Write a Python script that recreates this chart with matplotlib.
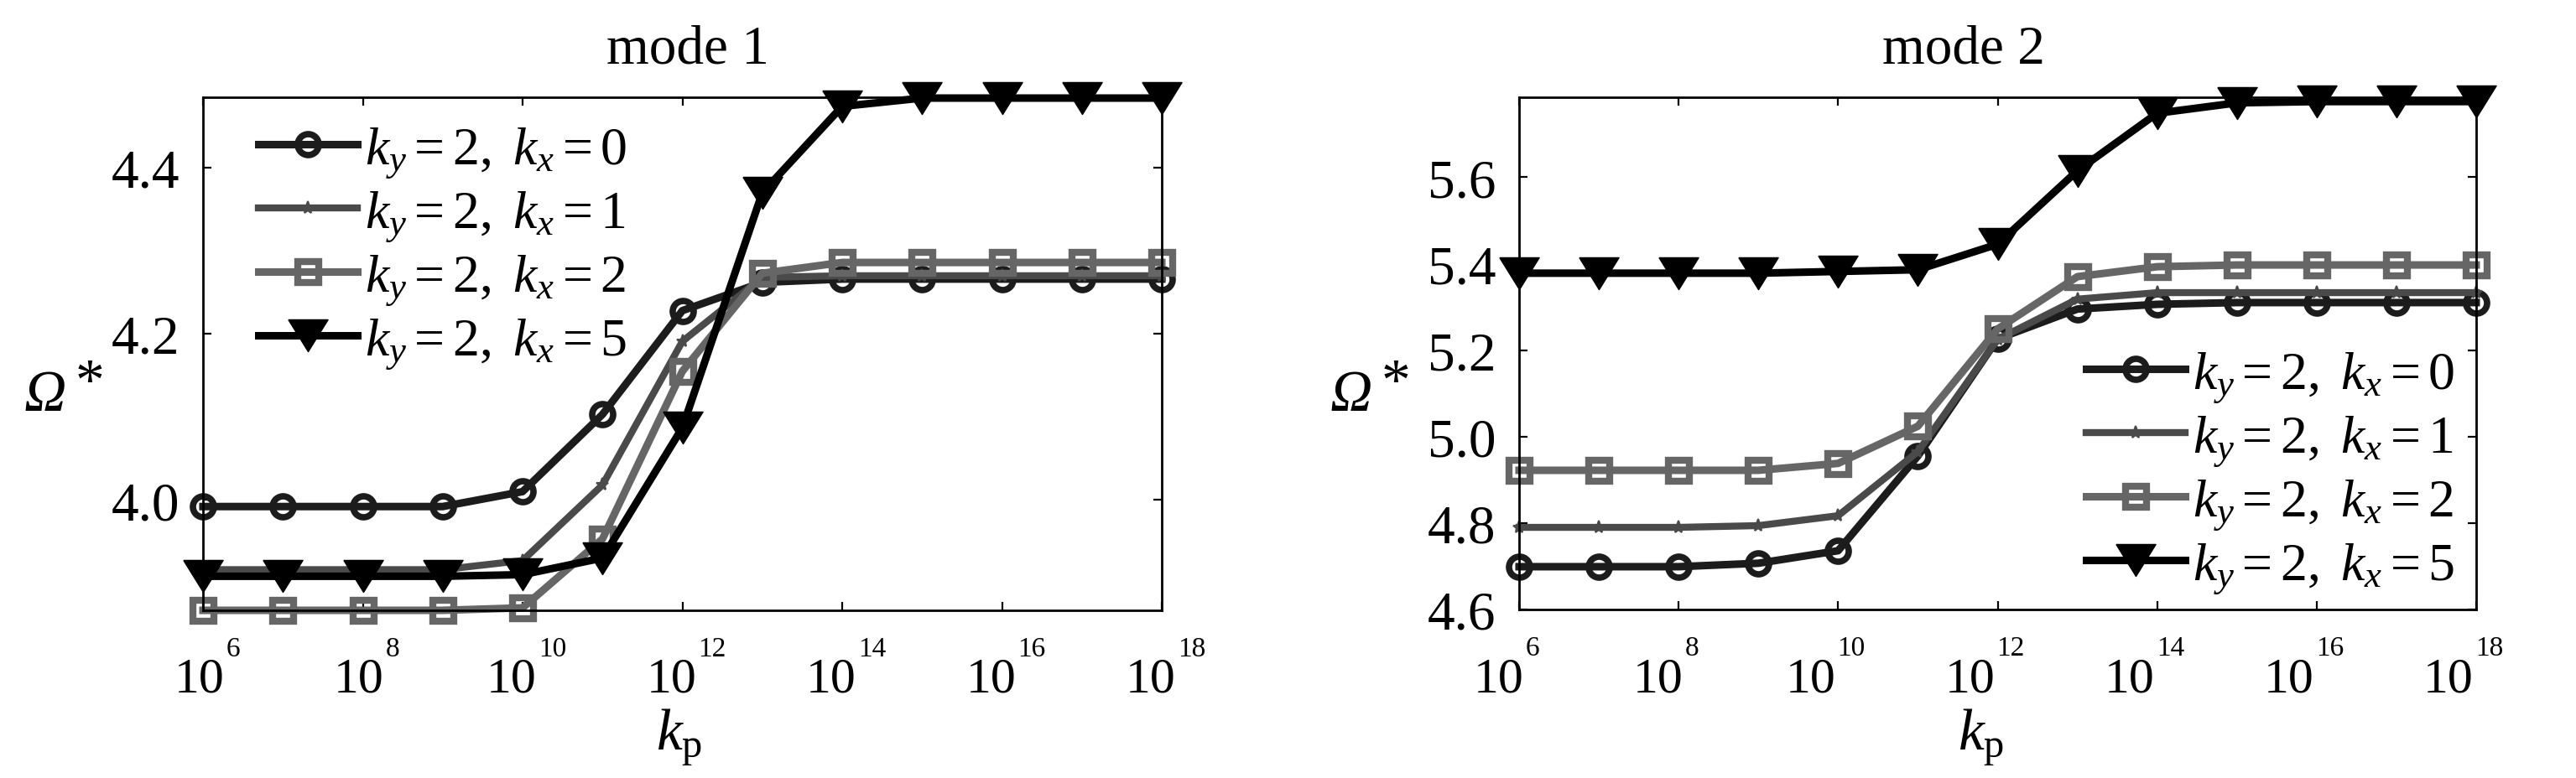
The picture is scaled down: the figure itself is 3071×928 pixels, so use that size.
import numpy as np
import matplotlib
matplotlib.use('Agg')
import matplotlib.pyplot as plt
from matplotlib.ticker import FixedLocator, FuncFormatter, NullLocator

plt.rcParams['font.family'] = ['Liberation Serif', 'DejaVu Serif']
plt.rcParams['mathtext.fontset'] = 'custom'
plt.rcParams['mathtext.rm'] = 'Liberation Serif'
plt.rcParams['mathtext.it'] = 'Liberation Serif:italic'
plt.rcParams['mathtext.bf'] = 'Liberation Serif:bold'

# ---------------- data ----------------
kp = [1e6, 1e7, 1e8, 1e9, 1e10, 1e11, 1e12, 1e13, 1e14, 1e15, 1e16, 1e17, 1e18]
xticks = [1e6, 1e8, 1e10, 1e12, 1e14, 1e16, 1e18]
xtick_exps = ['6', '8', '10', '12', '14', '16', '18']

labels = [r'$k_y=2,\ k_x=0$', r'$k_y=2,\ k_x=1$', r'$k_y=2,\ k_x=2$', r'$k_y=2,\ k_x=5$']

# mode 1
m1_kx0 = [3.992, 3.992, 3.992, 3.992, 4.010, 4.103, 4.228, 4.262, 4.266, 4.266, 4.266, 4.266, 4.266]
m1_kx1 = [3.916, 3.916, 3.916, 3.916, 3.927, 4.018, 4.191, 4.268, 4.270, 4.270, 4.270, 4.270, 4.270]
m1_kx2 = [3.867, 3.867, 3.867, 3.867, 3.870, 3.953, 4.155, 4.273, 4.286, 4.286, 4.286, 4.286, 4.286]
m1_kx5 = [3.908, 3.908, 3.908, 3.908, 3.910, 3.930, 4.087, 4.370, 4.474, 4.484, 4.484, 4.484, 4.484]
m1_yticks = [4.0, 4.2, 4.4]
m1_ylim = [3.867, 4.485]

# mode 2
m2_kx0 = [4.699, 4.699, 4.699, 4.707, 4.736, 4.955, 5.226, 5.295, 5.306, 5.310, 5.310, 5.310, 5.310]
m2_kx1 = [4.790, 4.790, 4.790, 4.794, 4.817, 4.965, 5.225, 5.318, 5.333, 5.333, 5.333, 5.333, 5.333]
m2_kx2 = [4.922, 4.922, 4.922, 4.922, 4.938, 5.024, 5.249, 5.370, 5.393, 5.397, 5.397, 5.397, 5.397]
m2_kx5 = [5.378, 5.378, 5.378, 5.378, 5.382, 5.386, 5.445, 5.615, 5.748, 5.772, 5.775, 5.775, 5.775]
m2_yticks = [4.6, 4.8, 5.0, 5.2, 5.4, 5.6]
m2_ylim = [4.6, 5.785]

# ---------------- style ----------------
W, H = 3071, 929
fig = plt.figure(figsize=(W / 100, H / 100), dpi=100)
P = 0.72  # points per pixel at dpi 100

tri = [(-0.62, 0.5), (0.62, 0.5), (0.0, -0.5), (-0.62, 0.5)]
styles = [
    dict(color='#1c1c1c', marker='o', ms=18, mew=5.5, mfc='none', lw=6.5),
    dict(color='#4a4a4a', marker='*', ms=11, mew=1.5, lw=6.0),
    dict(color='#666666', marker='s', ms=18, mew=6, mfc='none', lw=6.5),
    dict(color='#000000', marker=tri, ms=34, mew=1, lw=6.5),
]

FS = 47
LFS = 46


def px(x0, y0, x1, y1):
    return [x0 / W, 1 - y1 / H, (x1 - x0) / W, (y1 - y0) / H]


def setup(ax, ylim, yticks, xshift):
    ax.set_xscale('log')
    ax.set_xlim(kp[0], kp[-1])
    ax.set_ylim(*ylim)
    ax.xaxis.set_major_locator(FixedLocator(xticks))
    ax.xaxis.set_minor_locator(NullLocator())
    ax.yaxis.set_major_locator(FixedLocator(yticks))
    ax.yaxis.set_major_formatter(FuncFormatter(lambda v, p: '%.1f' % v))
    ax.tick_params(direction='in', top=True, right=True, length=7, width=1.6,
                   labelsize=FS)
    ax.tick_params(axis='x', labelbottom=False)
    ax.tick_params(axis='y', pad=20)
    for s in ax.spines.values():
        s.set_linewidth(2.0)
    tr = ax.get_xaxis_transform()
    for t, e in zip(xticks, xtick_exps):
        base_w, exp_w = 60, 17 * len(e)
        left = xshift - (base_w + 2 + exp_w) / 2
        ax.annotate('10', xy=(t, 0), xycoords=tr, xytext=(left * P, -97 * P),
                    textcoords='offset points', ha='left', va='baseline',
                    fontsize=43, annotation_clip=False)
        ax.annotate(e, xy=(t, 0), xycoords=tr, xytext=((left + base_w + 2) * P, -54 * P),
                    textcoords='offset points', ha='left', va='baseline',
                    fontsize=24, annotation_clip=False)


def draw(ax, series):
    for ys, st, lab in zip(series, styles, labels):
        ax.plot(kp, ys, label=lab, clip_on=False, **st)


def make_legend(ax, x_left, y_first, pitch=76.0):
    """Place legend so that handle lines start at x_left and row pitch/first row match."""
    ls = 0.15
    ax_x, ax_y = x_left, y_first - 35
    leg = None
    for _ in range(3):
        if leg is not None:
            leg.remove()
        leg = ax.legend(loc='upper left', bbox_to_anchor=(ax_x / W, 1 - ax_y / H),
                        bbox_transform=fig.transFigure, frameon=False, fontsize=LFS,
                        handlelength=1.85, handletextpad=0.15, labelspacing=ls,
                        borderpad=0, borderaxespad=0)
        fig.canvas.draw()
        r = fig.canvas.get_renderer()
        hs = leg.legend_handles
        ys = []
        for h in hs:
            bb = h.get_window_extent(r)
            ys.append(H - (bb.y0 + bb.y1) / 2)
        xs = hs[1].get_window_extent(r).x0
        cur_pitch = np.mean(np.diff(ys))
        ls = ls + (pitch - cur_pitch) / (LFS / P)
        ax_y += y_first - ys[0]
        ax_x += x_left - xs
    if leg is not None:
        leg.remove()
    leg = ax.legend(loc='upper left', bbox_to_anchor=(ax_x / W, 1 - ax_y / H),
                    bbox_transform=fig.transFigure, frameon=False, fontsize=LFS,
                    handlelength=1.85, handletextpad=0.15, labelspacing=ls,
                    borderpad=0, borderaxespad=0)
    return leg


ax1 = fig.add_axes(px(242, 117, 1385, 729))
setup(ax1, m1_ylim, m1_yticks, 5)
draw(ax1, [m1_kx0, m1_kx1, m1_kx2, m1_kx5])

ax2 = fig.add_axes(px(1811, 117, 2952, 728))
setup(ax2, m2_ylim, m2_yticks, -15)
draw(ax2, [m2_kx0, m2_kx1, m2_kx2, m2_kx5])

# titles
fig.text(820 / W, 1 - 75 / H, 'mode 1', ha='center', va='baseline', fontsize=47)
fig.text(2341 / W, 1 - 75 / H, 'mode 2', ha='center', va='baseline', fontsize=47)

# y labels (italic Omega with asterisk)
for x0 in (28, 1585):
    fig.text(x0 / W, 1 - 490 / H, 'Ω', style='italic', ha='left', va='baseline', fontsize=50)
    fig.text((x0 + 62) / W, 1 - 476 / H, '*', ha='left', va='baseline', fontsize=50)

# x labels
fig.text(810 / W, 1 - 894 / H, r'$k_{\mathrm{p}}$', ha='center', va='baseline', fontsize=50)
fig.text(2362 / W, 1 - 894 / H, r'$k_{\mathrm{p}}$', ha='center', va='baseline', fontsize=50)

make_legend(ax1, 300, 173)
make_legend(ax2, 2479, 441)

fig.savefig('out.png', dpi=100)
